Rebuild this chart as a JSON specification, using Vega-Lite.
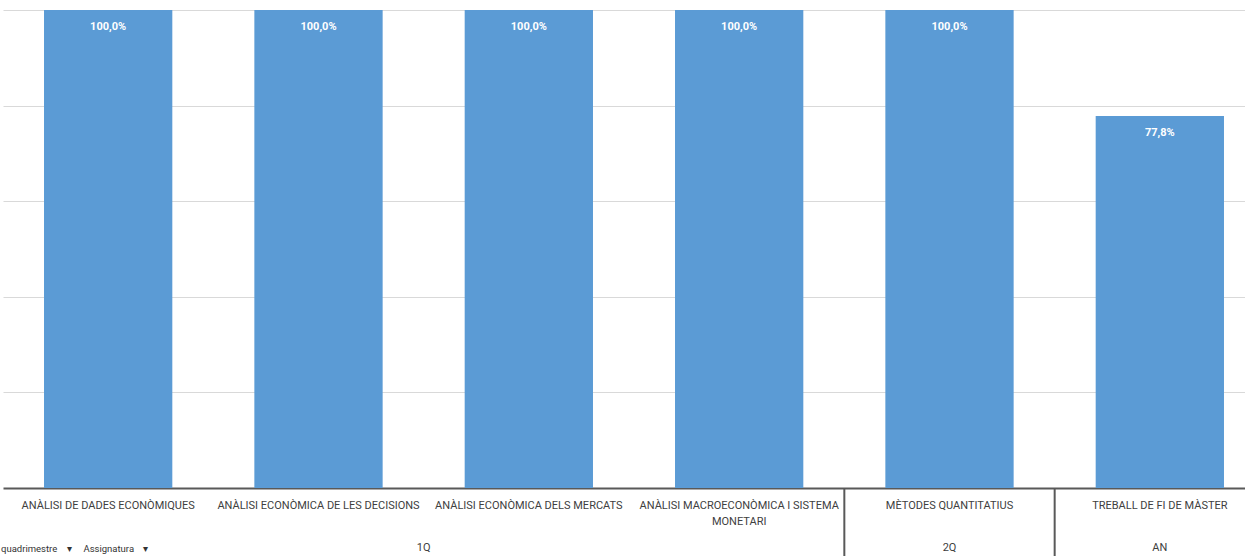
{
  "$schema": "https://vega.github.io/schema/vega-lite/v6.json",
  "width": 1262,
  "height": 478,
  "autosize": {"type": "none"},
  "padding": {"left": 3, "top": 10, "right": 0, "bottom": 68},
  "background": "white",
  "title": {
    "text": "quadrimestre\u00a0\u00a0\u00a0\u00a0▾\u00a0\u00a0\u00a0\u00a0\u00a0Assignatura\u00a0\u00a0\u00a0\u00a0▾",
    "orient": "top",
    "anchor": "start",
    "frame": "group",
    "offset": 0,
    "dx": -2,
    "dy": 543,
    "fontSize": 9.5,
    "fontWeight": "normal",
    "font": "Roboto",
    "color": "#333333",
    "baseline": "top"
  },
  "datasets": {
    "main": [
      {"quadrimestre": "1Q", "assignatura": "ANÀLISI DE DADES ECONÒMIQUES", "pct": 1.0},
      {"quadrimestre": "1Q", "assignatura": "ANÀLISI ECONÒMICA DE LES DECISIONS", "pct": 1.0},
      {"quadrimestre": "1Q", "assignatura": "ANÀLISI ECONÒMICA DELS MERCATS", "pct": 1.0},
      {"quadrimestre": "1Q", "assignatura": "ANÀLISI MACROECONÒMICA I SISTEMA MONETARI", "pct": 1.0},
      {"quadrimestre": "2Q", "assignatura": "MÈTODES QUANTITATIUS", "pct": 1.0},
      {"quadrimestre": "AN", "assignatura": "TREBALL DE FI DE MÀSTER", "pct": 0.778}
    ],
    "groupWide": [
      {"quadrimestre": "1Q", "assignatura": "ANÀLISI ECONÒMICA DELS MERCATS"}
    ],
    "groupSingle": [
      {"quadrimestre": "2Q", "assignatura": "MÈTODES QUANTITATIUS"},
      {"quadrimestre": "AN", "assignatura": "TREBALL DE FI DE MÀSTER"}
    ],
    "separators": [
      {"assignatura": "MÈTODES QUANTITATIUS"},
      {"assignatura": "TREBALL DE FI DE MÀSTER"}
    ]
  },
  "encoding": {
    "x": {
      "field": "assignatura",
      "type": "nominal",
      "sort": null,
      "scale": {
        "domain": [
          "ANÀLISI DE DADES ECONÒMIQUES",
          "ANÀLISI ECONÒMICA DE LES DECISIONS",
          "ANÀLISI ECONÒMICA DELS MERCATS",
          "ANÀLISI MACROECONÒMICA I SISTEMA MONETARI",
          "MÈTODES QUANTITATIUS",
          "TREBALL DE FI DE MÀSTER"
        ],
        "paddingInner": 0,
        "paddingOuter": 0
      },
      "axis": {
        "title": null,
        "labelAngle": 0,
        "ticks": false,
        "grid": false,
        "domainColor": "#595959",
        "domainWidth": 2,
        "labelColor": "#404040",
        "labelFont": "Roboto",
        "labelFontSize": 11,
        "labelPadding": 11,
        "labelLimit": 300,
        "labelLineHeight": 16,
        "labelExpr": "datum.label == 'ANÀLISI MACROECONÒMICA I SISTEMA MONETARI' ? ['ANÀLISI MACROECONÒMICA I SISTEMA', 'MONETARI'] : datum.label"
      }
    }
  },
  "layer": [
    {
      "data": {"name": "main"},
      "mark": {"type": "bar", "color": "#5B9BD5", "width": {"band": 0.61}},
      "encoding": {
        "y": {
          "field": "pct",
          "type": "quantitative",
          "scale": {"domain": [0, 1], "nice": false},
          "axis": {
            "title": null,
            "labels": false,
            "ticks": false,
            "domain": false,
            "grid": true,
            "gridColor": "#d9d9d9",
            "gridWidth": 1,
            "values": [0.2, 0.4, 0.6, 0.8, 1.0]
          }
        }
      }
    },
    {
      "data": {"name": "main"},
      "mark": {
        "type": "text",
        "color": "white",
        "fontWeight": "bold",
        "font": "Roboto",
        "fontSize": 11,
        "baseline": "middle",
        "dy": 17
      },
      "encoding": {
        "y": {"field": "pct", "type": "quantitative"},
        "text": {"field": "pct", "type": "quantitative", "format": ".1%"}
      }
    },
    {
      "data": {"name": "groupWide"},
      "mark": {
        "type": "text",
        "color": "#404040",
        "font": "Roboto",
        "fontSize": 11,
        "baseline": "middle",
        "y": 538
      },
      "encoding": {
        "x": {"field": "assignatura", "type": "nominal", "bandPosition": 0},
        "text": {"field": "quadrimestre"}
      }
    },
    {
      "data": {"name": "groupSingle"},
      "mark": {
        "type": "text",
        "color": "#404040",
        "font": "Roboto",
        "fontSize": 11,
        "baseline": "middle",
        "y": 538
      },
      "encoding": {
        "x": {"field": "assignatura", "type": "nominal", "bandPosition": 0.5},
        "text": {"field": "quadrimestre"}
      }
    },
    {
      "data": {"name": "separators"},
      "mark": {"type": "rule", "color": "#595959", "strokeWidth": 2, "y": 478, "y2": 546},
      "encoding": {
        "x": {"field": "assignatura", "type": "nominal", "bandPosition": 0}
      }
    }
  ],
  "config": {
    "view": {"stroke": null},
    "locale": {
      "number": {
        "decimal": ",",
        "thousands": ".",
        "grouping": [3],
        "currency": ["", " €"]
      }
    }
  }
}
